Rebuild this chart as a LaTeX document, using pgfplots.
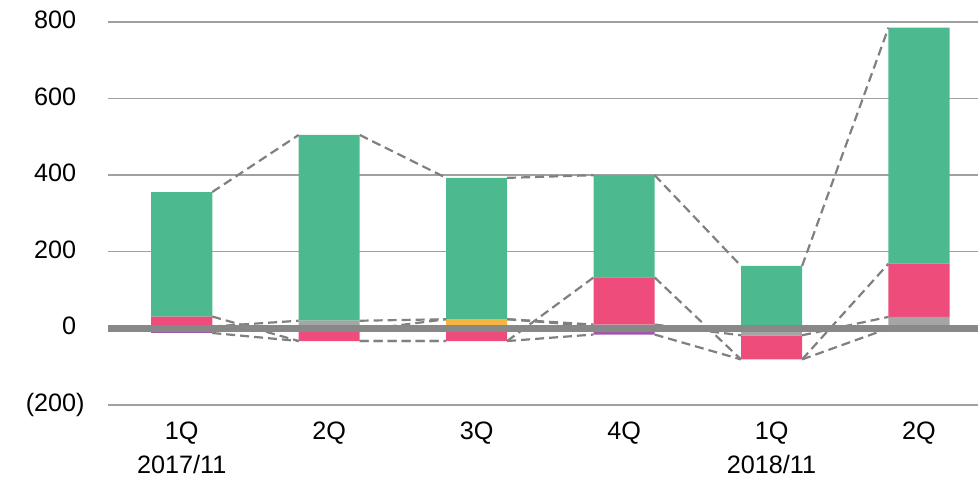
\documentclass[border=0pt]{standalone}
\usepackage{fontspec}
\setmainfont{Liberation Sans}
\usepackage{pgfplots}
\pgfplotsset{compat=1.18}
\definecolor{cgreen}{RGB}{76,185,143}
\definecolor{cpink}{RGB}{238,76,122}
\definecolor{cgray}{RGB}{165,165,165}
\definecolor{corange}{RGB}{246,180,64}
\definecolor{cpurple}{RGB}{158,88,170}
\definecolor{czero}{RGB}{136,136,136}
\definecolor{cgrid}{RGB}{160,160,160}
\definecolor{cdash}{RGB}{128,128,128}
\pgfplotsset{base/.style={
  width=435pt, height=202.5pt, scale only axis,
  xmin=-0.5, xmax=5.4, ymin=-200, ymax=857.4,
  clip=false,
  axis line style={draw=none},
  tick style={draw=none},
  major tick length=0pt,
  /pgf/number format/assume math mode=true,
  tick label style={font=\fontsize{12.6}{16.8}\selectfont},
},
serline/.style={cdash, line width=1.1pt, dash pattern=on 4.5pt off 2.5pt, mark=none}}
\begin{document}
\begin{tikzpicture}
\useasboundingbox (-54pt,-35.5pt) rectangle (435pt,202.5pt);
% positive stack + grid + labels
\begin{axis}[base, ybar stacked, bar width=0.414,
  ytick={-200,0,200,400,600,800},
  yticklabels={(200),0\phantom{)},200\phantom{)},400\phantom{)},600\phantom{)},800\phantom{)}},
  yticklabel style={anchor=east, inner sep=0pt, xshift=-11.5pt},
  ymajorgrids, grid style={cgrid, line width=0.7pt},
  xtick={0,1,2,3,4,5},
  xticklabels={{1Q\\2017/11},2Q,3Q,4Q,{1Q\\2018/11},2Q},
  xticklabel style={anchor=north, align=center, inner sep=0pt, yshift=-8.5pt},
]
\addplot[fill=corange, draw=none] coordinates {(0,0) (1,0) (2,24) (3,6) (4,0) (5,0)};
\addplot[fill=cgray, draw=none] coordinates {(0,5) (1,20) (2,0) (3,4) (4,0) (5,30)};
\addplot[fill=cpink, draw=none] coordinates {(0,26) (1,0) (2,0) (3,123) (4,0) (5,139)};
\addplot[fill=cgreen, draw=none] coordinates {(0,325) (1,485) (2,369) (3,267) (4,163) (5,616)};
\end{axis}
% negative stack
\begin{axis}[base, ybar stacked, bar width=0.414, xtick=\empty, ytick=\empty]
\addplot[fill=corange, draw=none] coordinates {(0,0) (1,-5) (2,0) (3,0) (4,0) (5,0)};
\addplot[fill=cgray, draw=none] coordinates {(0,0) (1,0) (2,0) (3,0) (4,-18) (5,0)};
\addplot[fill=cpink, draw=none] coordinates {(0,0) (1,-28) (2,-33) (3,0) (4,-63) (5,0)};
\addplot[fill=cpurple, draw=none] coordinates {(0,-12) (1,0) (2,0) (3,-16) (4,0) (5,0)};
\end{axis}
% zero line and series lines
\begin{axis}[base, xtick=\empty, ytick=\empty, unbounded coords=jump]
% orange
\addplot[serline] coordinates {(0.207,0) (0.793,-5) (1,nan) (1.207,-5) (1.793,24) (2,nan) (2.207,24) (2.793,6) (3,nan) (3.207,6) (3.793,0) (4,nan) (4.207,0) (4.793,0)};
% gray
\addplot[serline] coordinates {(0.207,5) (0.793,20) (1,nan) (1.207,20) (1.793,24) (2,nan) (2.207,24) (2.793,10) (3,nan) (3.207,10) (3.793,-18) (4,nan) (4.207,-18) (4.793,30)};
% pink
\addplot[serline] coordinates {(0.207,31) (0.793,-33) (1,nan) (1.207,-33) (1.793,-33) (2,nan) (2.207,-33) (2.793,133) (3,nan) (3.207,133) (3.793,-81) (4,nan) (4.207,-81) (4.793,169)};
% green
\addplot[serline] coordinates {(0.207,356) (0.793,505) (1,nan) (1.207,505) (1.793,393) (2,nan) (2.207,393) (2.793,400) (3,nan) (3.207,400) (3.793,163) (4,nan) (4.207,163) (4.793,785)};
% purple
\addplot[serline] coordinates {(0.207,-12) (0.793,-33) (1,nan) (1.207,-33) (1.793,-33) (2,nan) (2.207,-33) (2.793,-16) (3,nan) (3.207,-16) (3.793,-81) (4,nan) (4.207,-81) (4.793,0)};
% zero axis line
\addplot[czero, solid, line width=3.3pt, mark=none] coordinates {(-0.5,0) (5.4,0)};
\end{axis}
\end{tikzpicture}
\end{document}
